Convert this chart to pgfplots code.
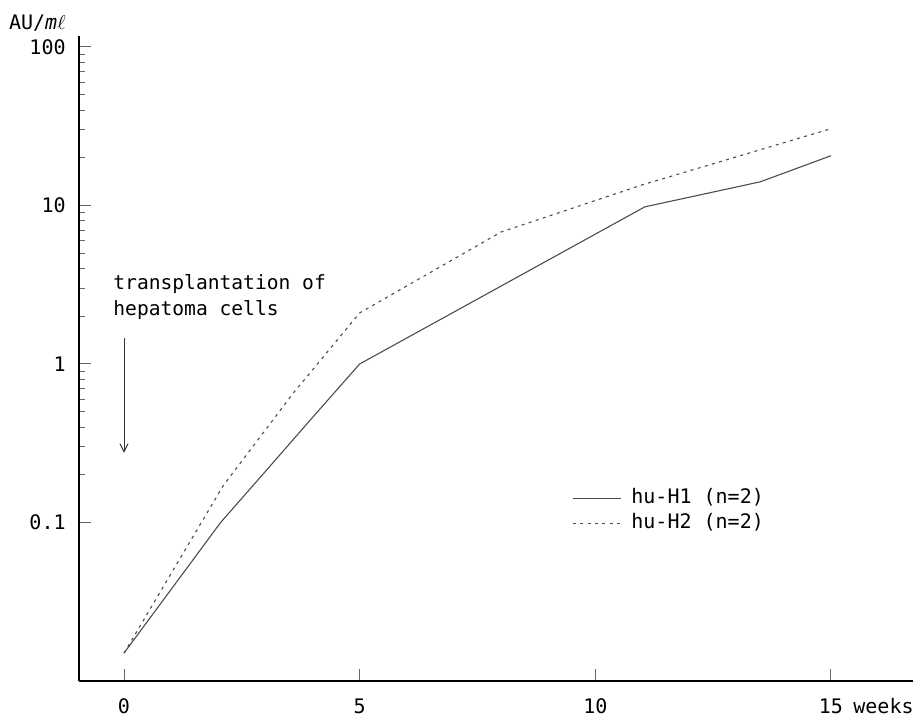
\documentclass[border=0pt]{standalone}
\usepackage{fontspec}
\setmainfont{DejaVu Sans Mono}
\usepackage{pgfplots}
\pgfplotsset{compat=1.18}
\usetikzlibrary{arrows.meta}
\begin{document}
\begin{tikzpicture}
\begin{axis}[
  name=ax,
  scale only axis, width=417pt, height=322.5pt,
  xmin=-0.955, xmax=16.74,
  ymode=log, ymin=0.01, ymax=117.3,
  axis x line=bottom, axis y line=left,
  axis line style={-, line width=1pt},
  xtick={0,5,10,15},
  ytick={0.1,1,10,100}, yticklabels={0.1,1,10,100},
  minor ytick={}, minor xtick={},
  tick align=inside, major tick length=5.8pt,
  tick style={line width=0.5pt, black!60},
  /pgf/number format/assume math mode=true,
  ticklabel style={font=\fontsize{10}{12}\selectfont},
  xticklabel style={anchor=base, yshift=-16.25pt},
  yticklabel style={anchor=east, inner sep=0pt, xshift=-6.5pt},
  legend style={draw=none, fill=none, at={(rel axis cs:0.591,0.299)}, anchor=north west,
    font=\fontsize{10}{12}\selectfont, row sep=2.5pt, column sep=5pt, inner sep=0pt,
    nodes={inner sep=0pt, text height=7.5pt, text depth=2.5pt}},
  legend cell align=left,
  legend image code/.code={\draw[#1] (0pt,0pt) -- (24pt,0pt);},
  clip=false,
]
\addplot[black!70, line width=0.55pt] coordinates {
  (0,0.015) (2.05,0.1) (3,0.21) (4,0.46) (5,1) (11.05,9.8) (13.5,14.1) (15,20.6)
};
\addlegendentry{hu-H1 (n=2)}
\addplot[black!70, line width=0.55pt, dash pattern=on 1.5pt off 2.2pt] coordinates {
  (0,0.015) (2.1,0.17) (3.6,0.66) (5,2.1) (8,6.8) (11,13.5) (15,30.5)
};
\addlegendentry{hu-H2 (n=2)}
\draw[black!80, line width=0.5pt, -{Straight Barb[length=4pt,width=4pt]}] (axis cs:0,1.46) -- (axis cs:0,0.275);
\node[anchor=west, inner sep=0pt, align=left, font=\fontsize{9.8}{13}\selectfont] at (axis cs:-0.233,2.65) {transplantation of\\hepatoma cells};
\node[anchor=base west, inner sep=0pt, font=\fontsize{10}{12}\selectfont] at (axis cs:15,0.01) [xshift=11pt, yshift=-16.25pt] {weeks};
\node[anchor=east, inner sep=0pt, font=\fontsize{10}{12}\selectfont] at (rel axis cs:0,1) [xshift=-6.5pt, yshift=6.5pt] {AU/$\mathit{m}\ell$};
\end{axis}
\pgfresetboundingbox
\path[use as bounding box] ([shift={(-39.5pt,-20pt)}]ax.south west) rectangle ([shift={(417.5pt,340.5pt)}]ax.south west);
\end{tikzpicture}
\end{document}
